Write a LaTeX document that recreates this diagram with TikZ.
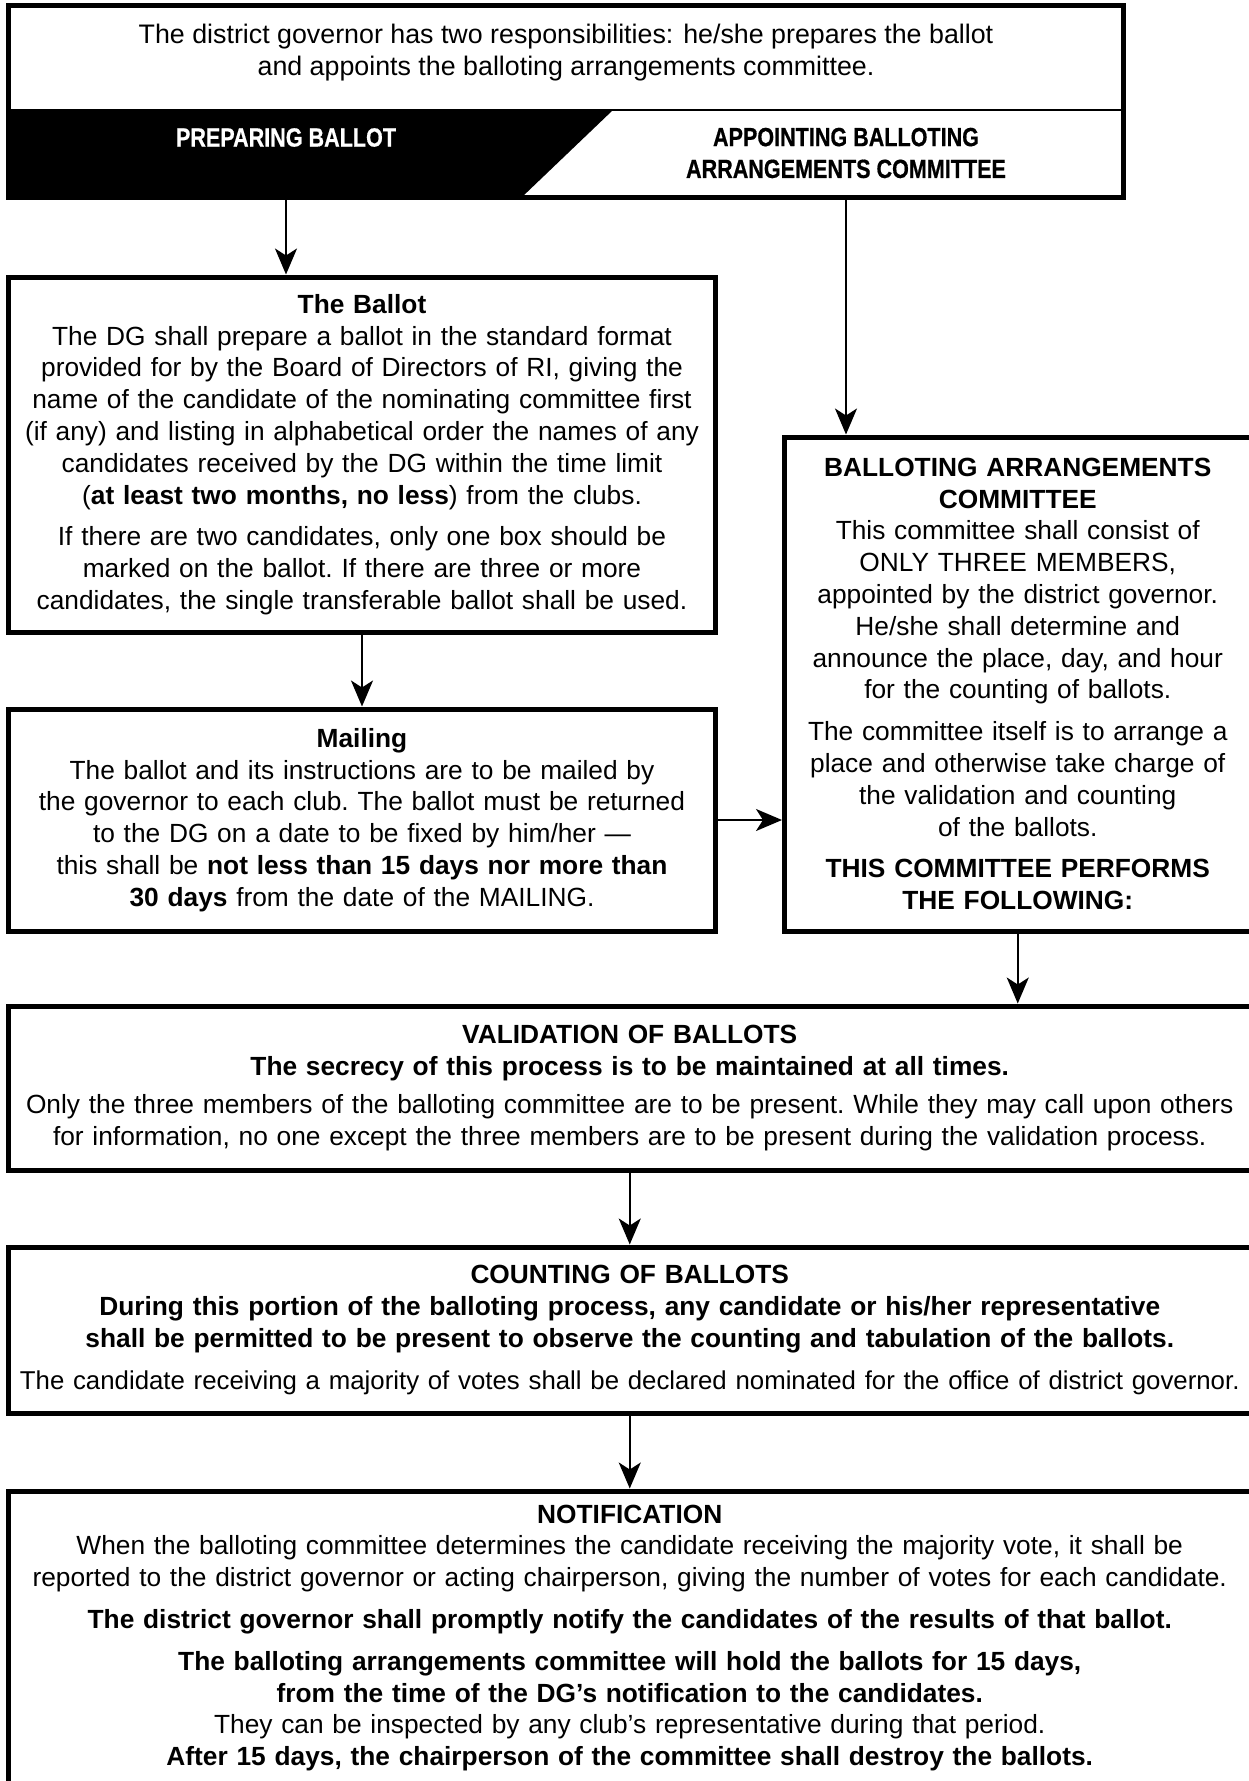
\documentclass[tikz,border=0pt]{standalone}
\usepackage{fontspec}
\setmainfont{Liberation Sans}
\newfontfamily\condfont[FakeStretch=0.82,FakeBold=0.6]{Liberation Sans}
\usetikzlibrary{arrows.meta}
\newcommand\bodyfs{\fontsize{26.3}{31.8}\selectfont\frenchspacing\hyphenpenalty=10000 }
\newcommand\pgap{\\[10pt]}
\tikzset{
  box/.style={draw, line width=5pt, inner sep=0pt, align=center, font=\bodyfs},
  bandlbl/.style={inner sep=0pt, align=center, font=\bodyfs\condfont\bfseries},
  arr/.style={line width=2pt, -{Stealth[length=26pt,width=22pt,inset=7pt]}}
}
\begin{document}
\begin{tikzpicture}[x=1pt,y=-1pt]
\useasboundingbox (0,0) rectangle (1249,1781);
% top box band
\fill[black] (8.5,110) -- (613,110) -- (522,197) -- (8.5,197) -- cycle;
\draw[line width=1.6pt] (8.5,110) -- (1123.5,110);
\node[box, minimum width=1115pt, minimum height=191.5pt] (top) at (566,101.25) {};
\node[inner sep=0pt, align=center, font={\fontsize{26.8}{31.8}\selectfont}] (toptext) at (566,52.5)
  {The district governor has two responsibilities: he/she prepares the ballot\\
   and appoints the balloting arrangements committee.};
\node[bandlbl, text=white] (prep) at (286,137.5) {PREPARING BALLOT};
\node[bandlbl] (appt) at (846,153) {APPOINTING BALLOTING\\ARRANGEMENTS COMMITTEE};

% boxes
\node[box, minimum width=707pt, minimum height=355pt, text width=703pt] (ballot) at (362,454.5)
  {\textbf{The Ballot}\\
   The DG shall prepare a ballot in the standard format\\
   provided for by the Board of Directors of RI, giving the\\
   name of the candidate of the nominating committee first\\
   (if any) and listing in alphabetical order the names of any\\
   candidates received by the DG within the time limit\\
   (\textbf{at least two months, no less}) from the clubs.\pgap
   If there are two candidates, only one box should be\\
   marked on the ballot. If there are three or more\\
   candidates, the single transferable ballot shall be used.};

\node[box, minimum width=707pt, minimum height=222pt, text width=703pt] (mailing) at (362,820)
  {\textbf{Mailing}\\
   The ballot and its instructions are to be mailed by\\
   the governor to each club. The ballot must be returned\\
   to the DG on a date to be fixed by him/her —\\
   this shall be \textbf{not less than 15 days nor more than}\\
   \textbf{30 days} from the date of the MAILING.};

\node[box, minimum width=466.5pt, minimum height=494pt, text width=462pt] (balcom) at (1017.75,684)
  {\textbf{BALLOTING ARRANGEMENTS}\\
   \textbf{COMMITTEE}\\
   This committee shall consist of\\
   ONLY THREE MEMBERS,\\
   appointed by the district governor.\\
   He/she shall determine and\\
   announce the place, day, and hour\\
   for the counting of ballots.\pgap
   The committee itself is to arrange a\\
   place and otherwise take charge of\\
   the validation and counting\\
   of the ballots.\pgap
   \textbf{THIS COMMITTEE PERFORMS}\\
   \textbf{THE FOLLOWING:}};

\node[box, minimum width=1242.5pt, minimum height=164pt, text width=1238pt] (valid) at (629.75,1088)
  {\textbf{VALIDATION OF BALLOTS}\\
   \textbf{The secrecy of this process is to be maintained at all times.}\\[7pt]
   Only the three members of the balloting committee are to be present. While they may call upon others\\
   for information, no one except the three members are to be present during the validation process.};

\node[box, minimum width=1242.5pt, minimum height=166pt, text width=1238pt] (count) at (629.75,1330)
  {\textbf{COUNTING OF BALLOTS}\\
   \textbf{During this portion of the balloting process, any candidate or his/her representative}\\
   \textbf{shall be permitted to be present to observe the counting and tabulation of the ballots.}\pgap
   \makebox[\linewidth]{\fontsize{25.8}{31.8}\selectfont The candidate receiving a majority of votes shall be declared nominated for the office of district governor.}};

\node[box, minimum width=1242.5pt, minimum height=294pt, text width=1238pt] (notif) at (629.75,1638)
  {\textbf{NOTIFICATION}\\
   When the balloting committee determines the candidate receiving the majority vote, it shall be\\
   reported to the district governor or acting chairperson, giving the number of votes for each candidate.\pgap
   \textbf{The district governor shall promptly notify the candidates of the results of that ballot.}\pgap
   \textbf{The balloting arrangements committee will hold the ballots for 15 days,}\\
   \textbf{from the time of the DG’s notification to the candidates.}\\
   They can be inspected by any club’s representative during that period.\\
   \textbf{After 15 days, the chairperson of the committee shall destroy the ballots.}};

% arrows
\draw[arr] (prep |- top.south) -- (prep |- ballot.north);
\draw[arr] (appt |- top.south) -- (appt |- balcom.north);
\draw[arr] (ballot.south) -- (mailing.north);
\draw[arr] (mailing.east) -- (mailing.east -| balcom.west);
\draw[arr] (balcom.south) -- (balcom.south |- valid.north);
\draw[arr] (valid.south) -- (count.north);
\draw[arr] (count.south) -- (notif.north);
\end{tikzpicture}
\end{document}
